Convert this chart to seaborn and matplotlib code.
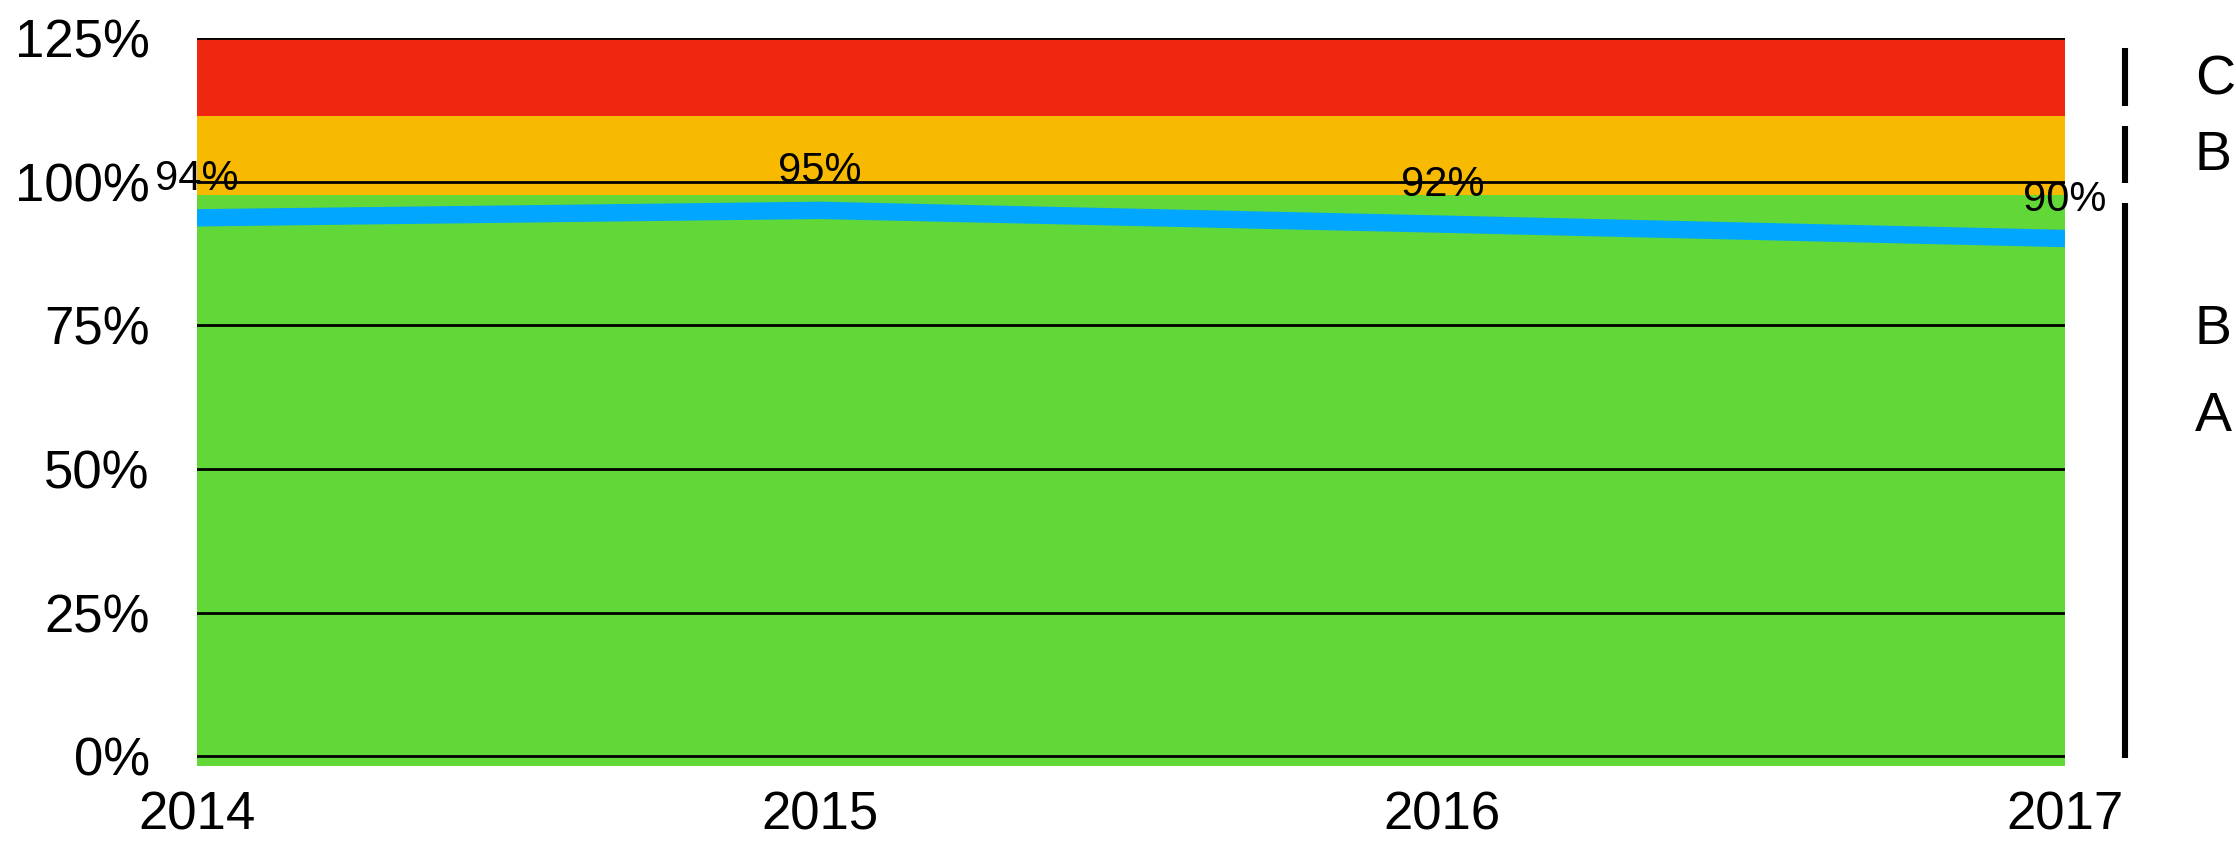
import matplotlib
matplotlib.use("Agg")
import matplotlib.pyplot as plt
import matplotlib.transforms as mtransforms
import seaborn as sns
import pandas as pd

# ---- data ----
years = [2014, 2015, 2016, 2017]
values = [93.7, 95.0, 92.6, 90.1]
value_labels = ["94%", "95%", "92%", "90%"]

band_names = ["A", "B", "C"]
band_lower = [-1.7, 97.7, 111.5]
band_upper = [97.7, 111.5, 125.0]
band_colors = ["#62D838", "#F7BA00", "#EF2610"]

yticks = [0, 25, 50, 75, 100, 125]
ytick_labels = ["0%", "25%", "50%", "75%", "100%", "125%"]

side_segments = [(-0.3, 96.3), (99.7, 109.6), (113.2, 123.2)]
side_labels = ["C", "B", "B", "A"]
side_label_y = [117.6, 104.4, 74.2, 59.1]

line_color = "#00A6FF"

sns.set_style("white")
plt.rcParams["font.family"] = ["Liberation Sans", "DejaVu Sans"]
plt.rcParams["text.color"] = "black"
plt.rcParams["xtick.color"] = "black"
plt.rcParams["ytick.color"] = "black"

fig = plt.figure(figsize=(22.36, 8.42), dpi=100)
ax = fig.add_axes([0.0881, 0.0903, 0.9235 - 0.0881, 0.9549 - 0.0903])

# bands
for lo, hi, col in zip(band_lower, band_upper, band_colors):
    ax.fill_between([years[0], years[-1]], [lo, lo], [hi, hi], color=col, lw=0, zorder=1)

# gridlines
for yt in yticks:
    ax.axhline(yt, color="black", lw=2.0, zorder=2)

# line
df = pd.DataFrame({"year": years, "value": values})
sns.lineplot(data=df, x="year", y="value", ax=ax, color=line_color, lw=12.5,
             zorder=3, solid_capstyle="butt")

for x, v, lab in zip(years, values, value_labels):
    ax.annotate(lab, (x, v), xytext=(0, 28), textcoords="offset points",
                ha="center", va="center", fontsize=30, color="black", zorder=4,
                annotation_clip=False)

ax.set_xlim(years[0], years[-1])
ax.set_ylim(band_lower[0], band_upper[-1])
ax.set_xticks(years)
ax.set_xticklabels([str(y) for y in years], fontsize=38, color="black")
ax.set_yticks(yticks)
ax.set_yticklabels(ytick_labels, fontsize=38, color="black")
ax.tick_params(axis="y", length=0, pad=34)
ax.tick_params(axis="x", length=0, pad=18)
ax.set_xlabel("")
ax.set_ylabel("")
for s in ax.spines.values():
    s.set_visible(False)

# right-side brackets and labels
trans = mtransforms.blended_transform_factory(ax.transAxes, ax.transData)
for lo, hi in side_segments:
    ax.plot([1.032, 1.032], [lo, hi], color="black", lw=4.4, transform=trans,
            clip_on=False, solid_capstyle="butt")
for lab, y in zip(side_labels, side_label_y):
    ax.text(1.0695, y, lab, transform=trans, ha="left", va="center", fontsize=40,
            color="black")

fig.savefig("out.png", dpi=100)
